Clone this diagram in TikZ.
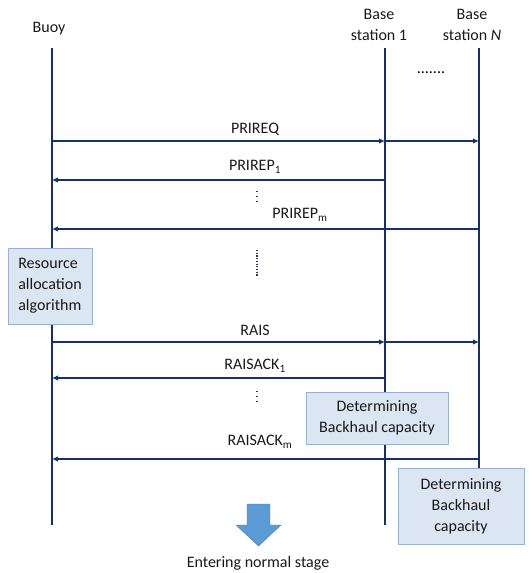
\documentclass[tikz,border=0pt]{standalone}
\usepackage{fontspec}
\setmainfont{Carlito}
\usepackage{tikz}
\usetikzlibrary{arrows.meta, positioning}

\definecolor{navy}{RGB}{22,48,105}
\definecolor{boxfill}{RGB}{220,230,242}
\definecolor{boxline}{RGB}{149,179,215}
\definecolor{stageblue}{RGB}{91,155,213}
\definecolor{dotcol}{RGB}{70,40,80}

\begin{document}
\begin{tikzpicture}[
    x=1pt, y=1pt,
    font=\fontsize{16}{21}\selectfont,
    life/.style={draw=navy, line width=1.8pt},
    msg/.style={
        draw=navy,
        line width=2.1pt,
        -{Latex[length=6pt, width=5.5pt]}
    },
    heavymsg/.style={msg, line width=2.7pt},
    msglabel/.style={inner sep=1pt, text=black!90},
    actor/.style={align=center, inner sep=1pt, text=black!90},
    procbox/.style={
        draw=boxline,
        fill=boxfill,
        line width=0.8pt,
        inner sep=4pt,
        text=black!90
    },
    gap/.style={draw=dotcol, line width=1.4pt, dash pattern=on 1.4pt off 3.4pt}
]
\useasboundingbox (0,0) rectangle (528,-573);

% lifelines
\node[actor] (buoy) at (49,-29) {Buoy};
\node[actor] (bs1) at (379,-25) {Base\\station 1};
\node[actor] (bsN) at (472,-25) {Base\\station \textit{N}};

\coordinate (buoytop) at (52,-48);
\coordinate (bs1top) at (385,-48);
\coordinate (bsNtop) at (479,-48);
\coordinate (buoyend) at (52,-525);
\coordinate (bs1end) at (385,-525);
\coordinate (bsNend) at (479,-480);

\draw[life] (buoytop) -- (buoyend);
\draw[life] (bs1top) -- (bs1end);
\draw[life] (bsNtop) -- (bsNend);

\node[inner sep=0pt] (more) at (431,-73) {.......};

% message rows
\coordinate (req) at (0,-141);
\coordinate (rep1) at (0,-180);
\coordinate (repm) at (0,-229);
\coordinate (rais) at (0,-342);
\coordinate (ack1) at (0,-378);
\coordinate (ackm) at (0,-459);

\draw[heavymsg] (buoytop |- req) -- (bs1top |- req);
\draw[msg] (bs1top |- req) -- (bsNtop |- req);
\node[msglabel] (lreq) at (255,-129) {PRIREQ};

\draw[msg] (bs1top |- rep1) -- (buoytop |- rep1);
\node[msglabel] (lrep1) at (255,-167) {PRIREP\textsubscript{1}};
\draw[gap] (257,-191) -- (257,-203);

\draw[msg] (bsNtop |- repm) -- (buoytop |- repm);
\node[msglabel] (lrepm) at (300,-215) {PRIREP\textsubscript{m}};

\draw[gap, line width=1.2pt, dash pattern=on 1.2pt off 1.5pt] (257,-250) -- (257,-277);

\node[procbox, align=left, minimum width=84pt, minimum height=76pt] (alloc) at (50,-286)
    {Resource\\allocation\\algorithm};

\draw[heavymsg] (buoytop |- rais) -- (bs1top |- rais);
\draw[msg] (bs1top |- rais) -- (bsNtop |- rais);
\node[msglabel] (lrais) at (255,-330) {RAIS};

\draw[msg] (bs1top |- ack1) -- (buoytop |- ack1);
\node[msglabel] (lack1) at (255,-366) {RAISACK\textsubscript{1}};
\draw[gap] (257,-391) -- (257,-403);

\node[procbox, align=center, minimum width=142pt, minimum height=52pt] (backhaul1) at (377,-418)
    {Determining\\Backhaul capacity};

\draw[msg] (bsNtop |- ackm) -- (buoytop |- ackm);
\node[msglabel] (lackm) at (260,-442) {RAISACK\textsubscript{m}};

\node[procbox, align=center, minimum width=126pt, minimum height=76pt] (backhaul2) at (461,-506)
    {Determining\\Backhaul\\capacity};

% next stage
\fill[stageblue, draw=stageblue!80!black, line width=0.4pt]
    (247,-504) -- (270,-504) -- (270,-525) -- (281,-525) -- (258.5,-546)
    -- (236,-525) -- (247,-525) -- cycle;
\node[msglabel] (stage) at (258,-563) {Entering normal stage};

\end{tikzpicture}
\end{document}
